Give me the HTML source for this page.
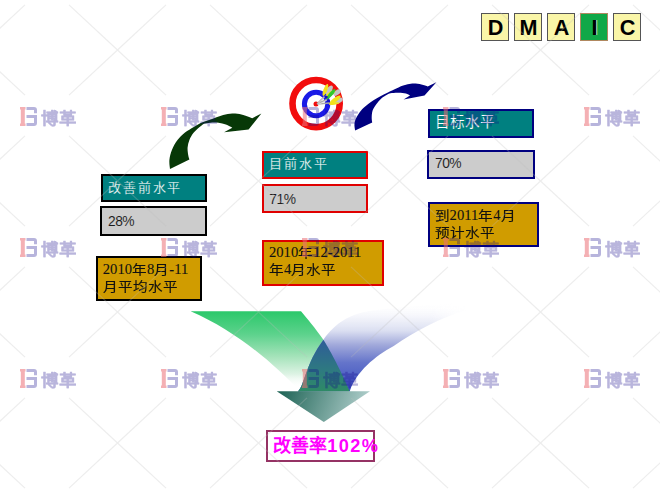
<!DOCTYPE html>
<html lang="zh-CN"><head><meta charset="utf-8">
<style>
html,body{margin:0;padding:0;width:660px;height:495px;overflow:hidden;background:#fff;}
body{position:relative;font-family:"Liberation Sans",sans-serif;}
.a{position:absolute;box-sizing:border-box;white-space:nowrap;}
.dm{top:13px;width:28px;height:28px;border:1px solid #555;background:#FAF6A8;font:bold 21.6px/27px "Liberation Sans",sans-serif;text-align:center;text-indent:1px;color:#000;}
.teal{background:#008080;color:#fff;}
.gray{background:#CCCCCC;color:#111;}
.gold{background:#D09C00;color:#111;}
.t1{color:#fff;font-size:13px;line-height:18px;-webkit-text-stroke:0.3px rgba(0,128,128,0.65);}
.t2{color:#1a1a1a;font-size:13.8px;line-height:18px;letter-spacing:-0.5px;-webkit-text-stroke:0.15px rgba(204,204,204,0.7);}
.t3{color:#111;font-family:"Liberation Serif",serif;font-size:14.6px;line-height:16.8px;-webkit-text-stroke:0.1px #111;}
.c{display:inline-block;transform:scale(1,0.87);transform-origin:50% 62%;-webkit-text-stroke:0.15px #111;}
svg{position:absolute;left:0;top:0;}
</style></head><body>
<svg width="660" height="495" viewBox="0 0 660 495">
<defs>
<linearGradient id="gg" x1="0" y1="311" x2="0" y2="388" gradientUnits="userSpaceOnUse">
<stop offset="0" stop-color="#2BC86A"/><stop offset="0.3" stop-color="#5CD28C"/><stop offset="0.58" stop-color="#A2E2B8"/><stop offset="0.82" stop-color="#DDF3E4"/><stop offset="1" stop-color="#ffffff" stop-opacity="0"/></linearGradient>
<linearGradient id="bg" x1="0" y1="302" x2="0" y2="390" gradientUnits="userSpaceOnUse">
<stop offset="0" stop-color="#ffffff" stop-opacity="0"/><stop offset="0.15" stop-color="#F4F5FB" stop-opacity="0.8"/><stop offset="0.33" stop-color="#DADEF1"/><stop offset="0.49" stop-color="#A0A8DA"/><stop offset="0.69" stop-color="#6474CA"/><stop offset="1" stop-color="#3C50C0"/></linearGradient>
<linearGradient id="og" x1="0" y1="340" x2="0" y2="391" gradientUnits="userSpaceOnUse">
<stop offset="0" stop-color="#2E5C98"/><stop offset="0.6" stop-color="#2E7A80"/><stop offset="1" stop-color="#2E8A66"/></linearGradient>
<linearGradient id="ag" x1="280" y1="390" x2="360" y2="420" gradientUnits="userSpaceOnUse">
<stop offset="0" stop-color="#1F6456"/><stop offset="1" stop-color="#AECDCA"/></linearGradient>
<linearGradient id="bmg" x1="430" y1="0" x2="470" y2="0" gradientUnits="userSpaceOnUse"><stop offset="0" stop-color="#fff"/><stop offset="1" stop-color="#000"/></linearGradient>
</defs>
<!-- merge band shapes -->
<mask id="bm" maskUnits="userSpaceOnUse" x="280" y="290" width="200" height="110"><rect x="280" y="290" width="200" height="110" fill="url(#bmg)"/></mask>
<path d="M190.6,311.2 C235.2,330.4 272.9,362.6 300.0,391.4 L349.7,391.4 C340,368 328,347 323.4,339.8 C316,329 306,317 301,311.2 Z" fill="url(#gg)"/>
<path d="M297.8,391.4 C304.2,386.8 305.6,363.4 323.4,339.8 C329,332 340,318 361.8,312.5 C397.4,305.7 444.7,304.9 466,302 L466,310 C440,318 415,331 393.7,346 C375,356 356,372 349.7,391.4 Z" fill="url(#bg)" mask="url(#bm)"/>
<path d="M297.8,391.4 C304.2,386.8 305.6,363.4 323.4,339.8 C328,347 340,368 349.7,391.4 Z" fill="url(#og)"/>
<path d="M276.7,391.2 L370,391.2 L323.8,422 Z" fill="url(#ag)"/>
<!-- curved arrows -->
<path d="M170.0,169.0 C169.9,167.5 169.1,163.2 169.4,160.1 C169.7,156.9 170.6,153.4 171.9,150.1 C173.2,146.8 175.3,143.0 177.5,140.1 C179.7,137.2 182.3,134.8 185.0,132.6 C187.7,130.4 190.9,128.6 193.8,126.9 C196.7,125.2 199.2,123.8 202.6,122.3 C206.0,120.8 210.7,119.4 214.1,118.2 C217.5,117.0 220.2,115.8 223.2,115.0 C226.2,114.2 229.3,113.7 232.3,113.6 C235.3,113.5 238.8,114.0 241.4,114.5 C244.0,115.0 245.9,115.8 247.7,116.4 C249.5,117.0 251.5,117.9 252.3,118.2 L261.4,113.4 L248.6,129.5 L224.1,132.3 L232.3,127.7 C231.2,127.2 228.2,125.3 225.9,124.5 C223.6,123.7 220.9,123.0 218.6,122.7 C216.3,122.4 214.6,122.3 212.3,122.5 C210.0,122.7 206.8,123.1 205.0,123.6 C203.2,124.1 203.2,124.2 201.3,125.7 C199.4,127.2 195.8,130.2 193.8,132.6 C191.8,135.0 190.4,137.6 189.4,140.1 C188.4,142.6 187.8,145.1 187.6,147.6 C187.4,150.1 187.9,153.1 188.2,155.1 C188.5,157.1 189.2,158.8 189.4,159.5 Z" fill="#073807"/>
<path d="M355.1,130.5 C355.0,129.3 354.2,125.8 354.5,123.4 C354.8,121.0 355.8,118.7 357.1,116.3 C358.4,113.9 360.1,111.4 362.1,109.2 C364.1,107.0 366.7,105.1 369.2,103.2 C371.7,101.3 374.4,99.8 377.3,98.1 C380.2,96.4 383.6,94.7 386.4,93.3 C389.2,91.9 391.3,90.8 394.1,89.5 C396.9,88.2 400.2,86.5 403.2,85.5 C406.2,84.5 409.3,83.8 412.3,83.6 C415.3,83.4 418.8,84.0 421.4,84.5 C424.0,85.0 426.6,86.1 427.7,86.4 L436.4,82.3 L424.5,95.5 L403.6,99.4 L410.0,95.5 C409.3,95.2 407.8,94.1 405.9,93.6 C404.0,93.1 401.2,92.8 398.6,92.7 C396.0,92.6 392.4,92.9 390.5,93.2 C388.6,93.5 388.9,93.7 387.4,94.6 C385.9,95.5 383.1,97.0 381.3,98.6 C379.5,100.2 377.7,102.2 376.3,104.2 C374.9,106.2 373.5,108.1 372.7,110.3 C371.9,112.5 371.8,115.3 371.7,117.3 C371.6,119.3 372.1,121.6 372.2,122.4 Z" fill="#000080"/>
</svg>
<!-- DMAIC -->
<div class="a dm" style="left:481px">D</div>
<div class="a dm" style="left:514px">M</div>
<div class="a dm" style="left:547px">A</div>
<div class="a dm" style="left:580px;background:#10A848;border-color:#B08860;text-shadow:1px 0 0 rgba(230,255,230,0.8)">I</div>
<div class="a dm" style="left:613px">C</div>

<!-- left column -->
<div class="a teal" style="left:100.5px;top:174.3px;width:106.7px;height:27.5px;border:2.2px solid #000;"></div>
<div class="a t1" style="left:108.3px;top:179px;letter-spacing:1.75px;">改善前水平</div>
<div class="a gray" style="left:100px;top:206px;width:107px;height:29.5px;border:2.7px solid #000;"></div>
<div class="a t2" style="left:108px;top:212.5px;">28%</div>
<div class="a gold" style="left:96px;top:256px;width:105.8px;height:44.8px;border:2px solid #000;"></div>
<div class="a t3" style="left:102.8px;top:261px;">2010<span class="c">年</span>8<span class="c">月</span>-11<br><span class="c">月平均水平</span></div>

<!-- middle column -->
<div class="a teal" style="left:262px;top:151px;width:106px;height:27.5px;border:2.2px solid #E00000;"></div>
<div class="a t1" style="left:268.8px;top:155.3px;letter-spacing:2.2px;">目前水平</div>
<div class="a gray" style="left:262px;top:184px;width:106px;height:29px;border:2.7px solid #E00000;"></div>
<div class="a t2" style="left:269.3px;top:190.5px;">71%</div>
<div class="a gold" style="left:262px;top:240px;width:122px;height:46px;border:2px solid #E00000;"></div>
<div class="a t3" style="left:269px;top:244.3px;">2010<span class="c">年</span>12-2011<br><span class="c">年</span>4<span class="c">月水平</span></div>

<!-- right column -->
<div class="a teal" style="left:427.6px;top:108.5px;width:106.9px;height:29px;border:2.2px solid #000080;"></div>
<div class="a t1" style="left:434.6px;top:112.9px;font-size:14.6px;line-height:18px;-webkit-text-stroke:0.2px rgba(0,128,128,0.8);">目标水平</div>
<div class="a gray" style="left:427.2px;top:149.8px;width:107.4px;height:29.5px;border:2.7px solid #000080;"></div>
<div class="a t2" style="left:435px;top:155.3px;">70%</div>
<div class="a gold" style="left:428px;top:201.6px;width:111px;height:45.4px;border:2px solid #000080;"></div>
<div class="a t3" style="left:434.6px;top:207px;"><span class="c">到</span>2011<span class="c">年</span>4<span class="c">月</span><br><span class="c">预计水平</span></div>

<!-- result -->
<div class="a" style="left:266px;top:429.5px;width:109px;height:32px;border:2px solid #953264;"></div>
<div class="a" style="left:273.3px;top:435px;color:#FF00FF;font-weight:bold;font-size:18px;line-height:22px;">改善率<span style="letter-spacing:1.4px;font-size:18.2px">102%</span></div>

<!-- watermark overlay -->
<svg width="660" height="495" viewBox="0 0 660 495" style="pointer-events:none">
<defs>
<g id="wm">
<path d="M0,0 H5.5 V2.5 H4.8 V16.5 H5.5 V19 H0 V16.5 H0.8 V2.5 H0 Z" fill="#EB6F76" opacity="0.55"/>
<path d="M6.5,0 H14 Q17,0 17,3 V6.3 H14 V2.9 H6.5 Z M6.5,8 H17 V16 Q17,19 14,19 H6.5 V16.1 H14 V10.9 H6.5 Z" fill="#12058A" opacity="0.3"/>
<text x="21.8" y="17.3" transform="translate(0,19) scale(0.97,0.9) translate(0,-19)" font-family="Liberation Sans" font-weight="bold" font-size="18" fill="#12058A" stroke="#12058A" stroke-width="0.2" opacity="0.29">博革</text>
</g>
</defs>
<path d="M25.0,4.9 L-23.5,50.0 M69.0,4.9 L117.5,50.0 M25.0,95.1 L-23.5,50.0 M25.0,135.9 L-23.5,181.0 M69.0,95.1 L117.5,50.0 M69.0,135.9 L117.5,181.0 M25.0,226.1 L-23.5,181.0 M25.0,266.9 L-23.5,312.0 M69.0,226.1 L117.5,181.0 M69.0,266.9 L117.5,312.0 M25.0,357.1 L-23.5,312.0 M25.0,397.9 L-23.5,443.0 M69.0,357.1 L117.5,312.0 M69.0,397.9 L117.5,443.0 M25.0,488.1 L-23.5,443.0 M69.0,488.1 L117.5,443.0 M166.0,4.9 L117.5,50.0 M210.0,4.9 L258.5,50.0 M166.0,95.1 L117.5,50.0 M166.0,135.9 L117.5,181.0 M210.0,95.1 L258.5,50.0 M210.0,135.9 L258.5,181.0 M166.0,226.1 L117.5,181.0 M166.0,266.9 L117.5,312.0 M210.0,226.1 L258.5,181.0 M210.0,266.9 L258.5,312.0 M166.0,357.1 L117.5,312.0 M166.0,397.9 L117.5,443.0 M210.0,357.1 L258.5,312.0 M210.0,397.9 L258.5,443.0 M166.0,488.1 L117.5,443.0 M210.0,488.1 L258.5,443.0 M307.0,4.9 L258.5,50.0 M351.0,4.9 L399.5,50.0 M307.0,95.1 L258.5,50.0 M307.0,135.9 L258.5,181.0 M351.0,95.1 L399.5,50.0 M351.0,135.9 L399.5,181.0 M307.0,226.1 L258.5,181.0 M307.0,266.9 L258.5,312.0 M351.0,226.1 L399.5,181.0 M351.0,266.9 L399.5,312.0 M307.0,357.1 L258.5,312.0 M307.0,397.9 L258.5,443.0 M351.0,357.1 L399.5,312.0 M351.0,397.9 L399.5,443.0 M307.0,488.1 L258.5,443.0 M351.0,488.1 L399.5,443.0 M448.0,4.9 L399.5,50.0 M492.0,4.9 L540.5,50.0 M448.0,95.1 L399.5,50.0 M448.0,135.9 L399.5,181.0 M492.0,95.1 L540.5,50.0 M492.0,135.9 L540.5,181.0 M448.0,226.1 L399.5,181.0 M448.0,266.9 L399.5,312.0 M492.0,226.1 L540.5,181.0 M492.0,266.9 L540.5,312.0 M448.0,357.1 L399.5,312.0 M448.0,397.9 L399.5,443.0 M492.0,357.1 L540.5,312.0 M492.0,397.9 L540.5,443.0 M448.0,488.1 L399.5,443.0 M492.0,488.1 L540.5,443.0 M589.0,4.9 L540.5,50.0 M633.0,4.9 L681.5,50.0 M589.0,95.1 L540.5,50.0 M589.0,135.9 L540.5,181.0 M633.0,95.1 L681.5,50.0 M633.0,135.9 L681.5,181.0 M589.0,226.1 L540.5,181.0 M589.0,266.9 L540.5,312.0 M633.0,226.1 L681.5,181.0 M633.0,266.9 L681.5,312.0 M589.0,357.1 L540.5,312.0 M589.0,397.9 L540.5,443.0 M633.0,357.1 L681.5,312.0 M633.0,397.9 L681.5,443.0 M589.0,488.1 L540.5,443.0 M633.0,488.1 L681.5,443.0" stroke="#BDBDBD" stroke-width="1.2" fill="none" opacity="0.27"/>
</svg>
<svg width="660" height="495" viewBox="0 0 660 495">
<circle cx="316.1" cy="103.6" r="27" fill="#fff"/>
<!-- target -->
<circle cx="316.1" cy="103.6" r="23.6" fill="none" stroke="#F20D0D" stroke-width="6.6"/>
<circle cx="316.1" cy="104" r="11.7" fill="none" stroke="#1A1AE6" stroke-width="5"/>
<circle cx="316" cy="104.1" r="2.5" fill="#F20D0D"/>
<g>
<path d="M317,104 L324.5,96.5 M317,104 L327,99.5 M317,104 L329.5,103" stroke="#A8A8A8" stroke-width="1.6" fill="none"/>
<path d="M318,103.5 L324,97.5 M318,104.5 L326.5,100.5" stroke="#F4F4F4" stroke-width="0.7" fill="none"/>
<ellipse cx="329.3" cy="90.2" rx="5.2" ry="2.4" transform="rotate(-58 329.3 90.2)" fill="#C4C4C4"/>
<ellipse cx="325.4" cy="89.9" rx="6.4" ry="1.9" transform="rotate(-69 325.4 89.9)" fill="#F2E21A"/>
<ellipse cx="337" cy="92.6" rx="4.2" ry="2.4" transform="rotate(-35 337 92.6)" fill="#C4C4C4"/>
<ellipse cx="330.2" cy="93.8" rx="6.2" ry="2" transform="rotate(-35 330.2 93.8)" fill="#F2E21A"/>
<ellipse cx="330.9" cy="94.2" rx="6.6" ry="1.8" transform="rotate(-50 330.9 94.2)" fill="#2EC82E"/>
<ellipse cx="338.8" cy="100.6" rx="4.3" ry="2.4" transform="rotate(-30 338.8 100.6)" fill="#C4C4C4"/>
<ellipse cx="335" cy="100" rx="7" ry="2.1" transform="rotate(-37 335 100)" fill="#F2E21A"/>
<ellipse cx="334.2" cy="103.6" rx="5.3" ry="1.2" transform="rotate(-8 334.2 103.6)" fill="#F2E21A"/>
<ellipse cx="326.2" cy="97" rx="1.6" ry="1.2" fill="#1010C0"/>
<ellipse cx="328.5" cy="100.9" rx="1.6" ry="1.2" fill="#1010C0"/>
</g>
</svg>
<svg width="660" height="495" viewBox="0 0 660 495">

<use href="#wm" x="20" y="107"/>
<use href="#wm" x="20" y="238"/>
<use href="#wm" x="20" y="369"/>
<use href="#wm" x="161" y="107"/>
<use href="#wm" x="161" y="238"/>
<use href="#wm" x="161" y="369"/>
<use href="#wm" x="302" y="107"/>
<use href="#wm" x="302" y="238"/>
<use href="#wm" x="302" y="369"/>
<use href="#wm" x="443" y="107"/>
<use href="#wm" x="443" y="238"/>
<use href="#wm" x="443" y="369"/>
<use href="#wm" x="584" y="107"/>
<use href="#wm" x="584" y="238"/>
<use href="#wm" x="584" y="369"/>
</svg>
</body></html>
